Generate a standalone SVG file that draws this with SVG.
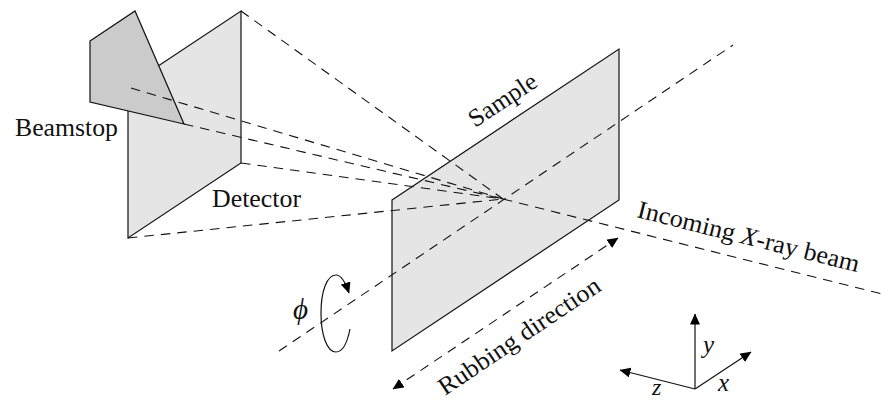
<svg xmlns="http://www.w3.org/2000/svg" width="881" height="400" viewBox="0 0 881 400">
<style>
.plate{fill:#e5e5e5;stroke:#111;stroke-width:1.2;stroke-linejoin:miter}
.stop{fill:#cbcbcb;stroke:#111;stroke-width:1.2}
.dash{fill:none;stroke:#111;stroke-width:1.1;stroke-dasharray:9.5 7}
.solid{fill:none;stroke:#111;stroke-width:1.2}
text{font-family:"Liberation Serif","DejaVu Serif",serif;font-size:25px;fill:#111}
.it{font-style:italic}
</style>
<defs>
<marker id="tip" viewBox="0 0 11 10" refX="10.5" refY="5" markerWidth="11" markerHeight="10" markerUnits="userSpaceOnUse" orient="auto-start-reverse">
<path d="M0 0L11 5L0 10Z" fill="#000"/>
</marker>
</defs>
<rect width="881" height="400" fill="#fff"/>
<g id="detector">
<polygon class="plate" points="128,86 241,11 241,163 128,238"/>
<text x="212" y="207" textLength="89" lengthAdjust="spacingAndGlyphs">Detector</text>
</g>
<g id="beamstop">
<polygon class="stop" points="90,41 135,11 184,124 90,102"/>
<text x="15" y="136" textLength="103" lengthAdjust="spacingAndGlyphs">Beamstop</text>
</g>
<g id="sample">
<polygon class="plate" points="392,200 619,49 619,200 392,351"/>
<text transform="translate(475,128) rotate(-33.6)" textLength="77" lengthAdjust="spacingAndGlyphs">Sample</text>
</g>
<g id="connectors">
<path class="dash" d="M241,11L503,199"/>
<path class="dash" d="M131,88L503,199"/>
<path class="dash" d="M184,124L503,199"/>
<path class="dash" d="M241,163L503,199"/>
<path class="dash" d="M128,238L503,199"/>
<path class="dash" d="M503,199L882,294"/>
<path class="dash" d="M279,351L733,45"/>
<path class="dash" d="M393,389L618,238" marker-start="url(#tip)" marker-end="url(#tip)"/>
<path class="solid" d="M350,329C347,344 342,352 336,352C327,352 321,335 321,313C321,291 327,275 336,275C340,275 345,281 349,293" marker-end="url(#tip)"/>
<path class="solid" d="M695,389L695,314" marker-end="url(#tip)"/>
<path class="solid" d="M695,389L751,352" marker-end="url(#tip)"/>
<path class="solid" d="M695,389L620,370" marker-end="url(#tip)"/>
</g>
<g id="labels">
<text class="it" x="293" y="319" style="font-size:29px">ϕ</text>
<text transform="translate(445,396) rotate(-34)" textLength="190" lengthAdjust="spacingAndGlyphs">Rubbing direction</text>
<text transform="translate(636,217) rotate(14)" textLength="228" lengthAdjust="spacingAndGlyphs">Incoming <tspan class="it">X</tspan>-ray beam</text>
<text class="it" x="703" y="353">y</text>
<text class="it" x="718" y="391">x</text>
<text class="it" x="652" y="394.5" style="font-size:24px">z</text>
</g>
</svg>
